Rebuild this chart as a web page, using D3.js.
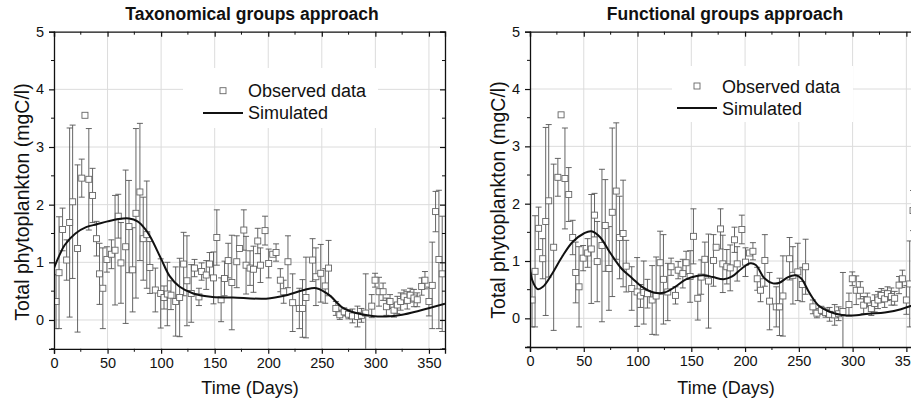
<!DOCTYPE html>
<html>
<head>
<meta charset="utf-8">
<script src="https://cdn.jsdelivr.net/npm/d3@7"></script>
<style>
  body { margin: 0; background: #fff; }
  text { font-family: "Liberation Sans", Arial, sans-serif; fill: #111; }
</style>
</head>
<body>
<svg id="chart" width="911" height="405"></svg>
<script>
// --- Data ---
// observed phytoplankton (same in both panels): day, value, error
var obsDays = [1.9, 4.7, 8.0, 11.8, 14.6, 17.4, 22.0, 25.9, 28.9, 32.5, 36.0, 39.7, 42.5, 45.6, 49.4, 53.6, 57.0, 60.0, 62.5, 66.9,
  70.0, 73.4, 76.5, 80.2, 83.3, 86.6, 89.5, 94.6, 99.6, 102.7, 105.8, 109.2, 113.6, 117.3, 121.0, 124.1, 128.1, 131.2, 135.3, 137.8,
  142.1, 145.2, 148.9, 152.0, 156.0, 159.2, 162.6, 166.0, 170.6, 173.1, 177.2, 179.3, 183.0, 186.2, 190.2, 192.7, 197.0, 200.4, 204.2, 207.3,
  211.3, 214.4, 218.4, 222.8, 229.0, 232.0, 235.2, 241.4, 244.5, 249.0, 253.2, 256.3, 263.1, 266.8, 270.9, 274.9, 278.6, 283.3, 287.0, 291.0,
  296.6, 299.7, 303.4, 307.2, 310.3, 313.7, 317.4, 320.5, 323.6, 326.7, 329.8, 332.5, 336.0, 339.1, 343.2, 346.3, 350.0, 353.1, 356.2, 359.3, 362.4];
var obsValues = [0.32, 0.82, 1.57, 1.04, 1.69, 2.05, 1.24, 2.46, 3.55, 2.44, 2.16, 1.41, 0.80, 0.55, 1.05, 1.14, 1.21, 1.80, 0.99, 1.27,
  1.62, 0.87, 1.85, 2.22, 1.41, 1.48, 0.91, 0.52, 0.46, 0.39, 0.45, 0.43, 0.32, 0.39, 0.97, 0.68, 0.46, 0.90, 0.40, 0.84,
  0.78, 0.97, 0.73, 1.43, 0.35, 0.72, 1.03, 0.65, 1.01, 1.24, 1.56, 0.95, 0.90, 0.88, 1.37, 0.95, 1.55, 0.98, 1.14, 1.17,
  0.69, 0.49, 1.01, 0.30, 0.20, 0.20, 0.39, 1.04, 0.75, 0.81, 0.59, 0.90, 0.20, 0.09, 0.14, 0.10, 0.07, 0.06, 0.08, 0.12,
  0.24, 0.69, 0.49, 0.49, 0.23, 0.32, 0.17, 0.26, 0.32, 0.40, 0.34, 0.43, 0.38, 0.35, 0.58, 0.69, 0.32, 0.60, 1.88, 1.05, 0.80];
var obsErrors = [0.47, 0.97, 0.37, 0.35, 1.64, 1.33, 1.45, 0.33, 0.03, 0.88, 0.47, 0.30, 0.53, 0.70, 0.22, 0.25, 0.95, 0.38, 0.70, 1.33,
  0.80, 0.73, 1.47, 1.19, 0.72, 0.93, 0.45, 0.38, 0.60, 0.20, 0.55, 0.25, 0.60, 0.68, 0.55, 0.78, 0.50, 0.15, 0.15, 0.15,
  0.25, 0.20, 0.45, 0.48, 0.38, 0.30, 0.30, 0.82, 0.45, 0.02, 0.35, 0.50, 0.30, 0.40, 0.22, 0.30, 0.25, 0.25, 0.03, 0.15,
  0.20, 0.20, 0.45, 0.50, 0.35, 0.50, 0.70, 0.37, 0.50, 0.50, 0.30, 0.48, 0.12, 0.08, 0.07, 0.08, 0.12, 0.18, 0.12, 0.68,
  0.20, 0.12, 0.25, 0.15, 0.15, 0.12, 0.12, 0.15, 0.15, 0.12, 0.15, 0.12, 0.15, 0.12, 0.15, 0.15, 0.25, 0.75, 0.35, 1.20, 1.00];

// simulated, taxonomical groups
var taxDays = [0, 5, 10, 20, 30, 40, 50, 60, 70, 78, 85, 90, 100, 108, 117, 130, 148, 167, 198, 217, 235, 245, 257, 269, 282, 297, 310, 325, 341, 365];
var taxValues = [0.90, 1.12, 1.30, 1.50, 1.61, 1.66, 1.71, 1.75, 1.76, 1.71, 1.58, 1.44, 1.06, 0.76, 0.58, 0.46, 0.40, 0.39, 0.37, 0.43, 0.53, 0.55, 0.43, 0.22, 0.12, 0.07, 0.06, 0.09, 0.16, 0.28];

// simulated, functional groups
var funDays = [0, 2, 7, 12, 20, 30, 40, 50, 57, 65, 75, 85, 95, 105, 115, 125, 135, 145, 155, 162, 170, 180, 188, 197, 205, 210, 218, 226, 232, 240, 247, 252, 260, 268, 278, 290, 300, 315, 330, 345, 365];
var funValues = [0.87, 0.67, 0.51, 0.55, 0.76, 1.08, 1.34, 1.48, 1.52, 1.42, 1.13, 0.87, 0.70, 0.54, 0.45, 0.45, 0.55, 0.68, 0.74, 0.75, 0.72, 0.68, 0.73, 0.87, 0.96, 0.93, 0.70, 0.61, 0.62, 0.72, 0.75, 0.70, 0.44, 0.23, 0.12, 0.06, 0.05, 0.08, 0.10, 0.16, 0.29];

var xTicks = [0, 50, 100, 150, 200, 250, 300, 350];
var yTicks = [0, 1, 2, 3, 4, 5];
var titles = ["Taxonomical groups approach", "Functional groups approach"];

// --- Layout ---
var svg = d3.select("#chart");
svg.append("rect").attr("width", 911).attr("height", 405).attr("fill", "#fff");

var panels = [
  { x0: 54, x1: 445, top: 31.7, bottom: 348.8, title: titles[0], days: taxDays, sim: taxValues,
    legend: { x: 183, y: 68, w: 195, h: 60, mx: 223, my: 90.7, lx0: 203, lx1: 243, ly: 113, tx: 248, t1: 97, t2: 119 },
    ylabX: 29, ylabY: 202, titleX: 252 },
  { x0: 530, x1: 922.5, top: 31.7, bottom: 347, title: titles[1], days: funDays, sim: funValues,
    legend: { x: 672, y: 66, w: 181, h: 56, mx: 697, my: 86, lx0: 677, lx1: 717, ly: 108, tx: 722, t1: 93, t2: 115 },
    ylabX: 505, ylabY: 200, titleX: 725 }
];

panels.forEach(function(p, i) { drawPanel(p, i); });

function drawPanel(p, idx) {
  var x = d3.scaleLinear().domain([0, 365]).range([p.x0, p.x1]);
  var y = d3.scaleLinear().domain([-0.5, 5]).range([p.bottom, p.top]);
  var g = svg.append("g");

  var clipId = "clip" + idx;
  svg.append("clipPath").attr("id", clipId)
    .append("rect").attr("x", p.x0).attr("y", p.top).attr("width", p.x1 - p.x0).attr("height", p.bottom - p.top);

  // grid
  g.selectAll("line.gx").data(xTicks.slice(1)).enter().append("line")
    .attr("x1", function(d) { return x(d); }).attr("x2", function(d) { return x(d); })
    .attr("y1", p.top).attr("y2", p.bottom)
    .attr("stroke", "#dcdcdc").attr("stroke-width", 1);
  g.selectAll("line.gy").data(yTicks.slice(0, 5)).enter().append("line")
    .attr("x1", p.x0).attr("x2", p.x1)
    .attr("y1", function(d) { return y(d); }).attr("y2", function(d) { return y(d); })
    .attr("stroke", "#dcdcdc").attr("stroke-width", 1);

  // legend box hides the grid behind it
  g.append("rect").attr("x", p.legend.x).attr("y", p.legend.y)
    .attr("width", p.legend.w).attr("height", p.legend.h).attr("fill", "#fff");

  var plot = g.append("g").attr("clip-path", "url(#" + clipId + ")");
  var obs = obsDays.map(function(d, i) { return { day: d, v: obsValues[i], e: obsErrors[i] }; });

  // error bars
  var bars = plot.selectAll("g.eb").data(obs).enter().append("g")
    .attr("stroke", "#555").attr("stroke-width", 0.9);
  bars.append("line")
    .attr("x1", function(d) { return x(d.day); }).attr("x2", function(d) { return x(d.day); })
    .attr("y1", function(d) { return y(d.v - d.e); }).attr("y2", function(d) { return y(d.v + d.e); });
  bars.append("line")
    .attr("x1", function(d) { return x(d.day) - 3; }).attr("x2", function(d) { return x(d.day) + 3; })
    .attr("y1", function(d) { return y(d.v + d.e); }).attr("y2", function(d) { return y(d.v + d.e); });
  bars.append("line")
    .attr("x1", function(d) { return x(d.day) - 3; }).attr("x2", function(d) { return x(d.day) + 3; })
    .attr("y1", function(d) { return y(d.v - d.e); }).attr("y2", function(d) { return y(d.v - d.e); });

  plot.selectAll("rect.obs").data(obs).enter().append("rect")
    .attr("x", function(d) { return x(d.day) - 3; })
    .attr("y", function(d) { return y(d.v) - 3; })
    .attr("width", 6).attr("height", 6)
    .attr("fill", "#fff").attr("stroke", "#666").attr("stroke-width", 0.9);

  // simulated curve
  var simData = p.days.map(function(d, i) { return [d, p.sim[i]]; });
  var line = d3.line()
    .x(function(d) { return x(d[0]); })
    .y(function(d) { return y(d[1]); })
    .curve(d3.curveCatmullRom.alpha(0.5));
  plot.append("path").datum(simData)
    .attr("d", line).attr("fill", "none")
    .attr("stroke", "#111").attr("stroke-width", 2);

  // axes (Origin style frame)
  var axB = d3.axisBottom(x).tickValues(xTicks).tickSize(5).tickPadding(4).tickFormat(d3.format("d"));
  var axL = d3.axisLeft(y).tickValues(yTicks).tickSize(5).tickPadding(5).tickFormat(d3.format("d"));
  var axT = d3.axisBottom(x).tickValues(xTicks).tickSize(5).tickFormat("");
  var axR = d3.axisLeft(y).tickValues(yTicks).tickSize(5).tickFormat("");

  var minorX = d3.range(25, 366, 50);
  var minorY = d3.range(-0.5, 5, 1);

  var b = g.append("g").attr("transform", "translate(0," + p.bottom + ")").call(axB);
  var l = g.append("g").attr("transform", "translate(" + p.x0 + ",0)").call(axL);
  var t = g.append("g").attr("transform", "translate(0," + p.top + ")").call(axT);
  var r = g.append("g").attr("transform", "translate(" + p.x1 + ",0)").call(axR);
  [b, l, t, r].forEach(function(a) {
    a.select(".domain").attr("stroke", "#111").attr("stroke-width", 1.3);
    a.selectAll(".tick line").attr("stroke", "#111").attr("stroke-width", 1.2);
    a.selectAll(".tick text").attr("font-size", 14.5).attr("fill", "#111")
      .style("font-family", "'Liberation Sans', Arial, sans-serif");
  });
  b.append("g").selectAll("line").data(minorX).enter().append("line")
    .attr("x1", function(d) { return x(d); }).attr("x2", function(d) { return x(d); })
    .attr("y1", 0).attr("y2", 3).attr("stroke", "#111");
  t.append("g").selectAll("line").data(minorX).enter().append("line")
    .attr("x1", function(d) { return x(d); }).attr("x2", function(d) { return x(d); })
    .attr("y1", 0).attr("y2", 3).attr("stroke", "#111");
  l.append("g").selectAll("line").data(minorY).enter().append("line")
    .attr("x1", 0).attr("x2", -3)
    .attr("y1", function(d) { return y(d); }).attr("y2", function(d) { return y(d); }).attr("stroke", "#111");
  r.append("g").selectAll("line").data(minorY).enter().append("line")
    .attr("x1", 0).attr("x2", -3)
    .attr("y1", function(d) { return y(d); }).attr("y2", function(d) { return y(d); }).attr("stroke", "#111");

  // legend
  var lg = p.legend;
  g.append("rect").attr("x", lg.mx - 3).attr("y", lg.my - 3).attr("width", 6).attr("height", 6)
    .attr("fill", "#fff").attr("stroke", "#666").attr("stroke-width", 0.9);
  g.append("line").attr("x1", lg.lx0).attr("x2", lg.lx1).attr("y1", lg.ly).attr("y2", lg.ly)
    .attr("stroke", "#111").attr("stroke-width", 2);
  g.append("text").attr("x", lg.tx).attr("y", lg.t1).attr("font-size", 18).text("Observed data");
  g.append("text").attr("x", lg.tx).attr("y", lg.t2).attr("font-size", 18).text("Simulated");

  // titles and labels
  g.append("text").attr("x", p.titleX).attr("y", 20)
    .attr("text-anchor", "middle").attr("font-size", 17.5).attr("font-weight", "bold")
    .text(p.title);
  g.append("text").attr("x", p.x0 + 196).attr("y", 394)
    .attr("text-anchor", "middle").attr("font-size", 18)
    .text("Time (Days)");
  g.append("text")
    .attr("transform", "translate(" + p.ylabX + "," + p.ylabY + ") rotate(-90)")
    .attr("text-anchor", "middle").attr("font-size", 19.5)
    .text("Total phytoplankton (mgC/l)");
}
</script>
</body>
</html>
